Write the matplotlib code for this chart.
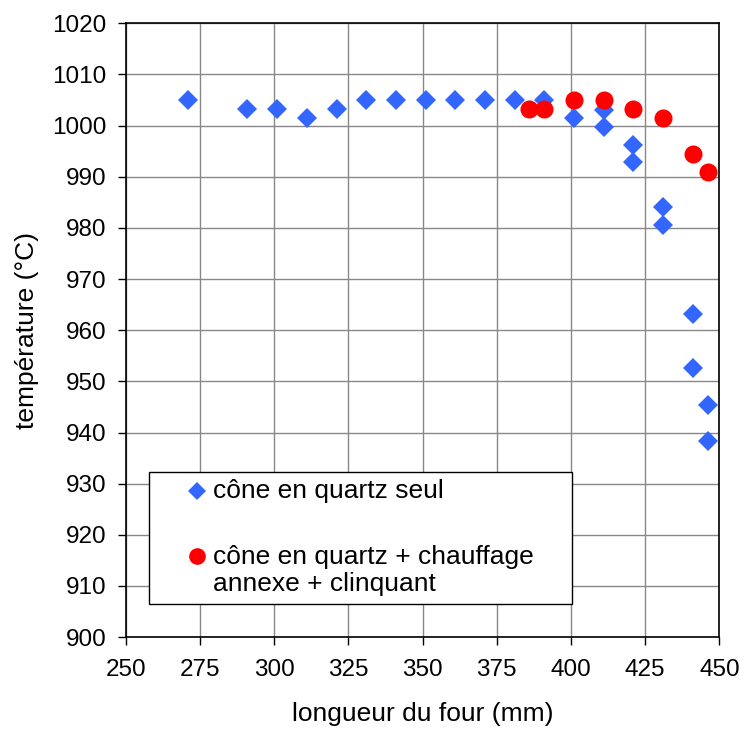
import matplotlib.pyplot as plt
from matplotlib.patches import Rectangle

plt.rcParams["font.family"] = ["Liberation Sans", "DejaVu Sans"]

# cône en quartz seul
x_seul = [271, 291, 301, 311, 321, 331, 341, 351, 361, 371, 381, 391,
          401, 411, 411, 421, 421, 431, 431, 441, 441, 446, 446]
t_seul = [1005, 1003.2, 1003.2, 1001.5, 1003.2, 1005, 1005, 1005, 1005, 1005, 1005, 1005,
          1001.5, 1003, 999.7, 996.2, 992.8, 984, 980.6, 963.1, 952.6, 945.4, 938.4]

# cône en quartz + chauffage annexe + clinquant
x_chauf = [386, 391, 401, 411, 421, 431, 441, 446]
t_chauf = [1003.2, 1003.2, 1005, 1005, 1003.2, 1001.5, 994.5, 991]

label_seul = "cône en quartz seul"
label_chauf = "cône en quartz + chauffage\nannexe + clinquant"

BLUE = "#3366FF"
RED = "#FF0000"

fig = plt.figure(figsize=(7.44, 7.29), dpi=100)
ax = fig.add_axes([0.169, 0.126, 0.798, 0.842])

ax.plot(x_seul, t_seul, linestyle="none", marker="D", markersize=10,
        color=BLUE, markeredgewidth=0, clip_on=False, zorder=3)
ax.plot(x_chauf, t_chauf, linestyle="none", marker="o", markersize=13,
        color=RED, markeredgewidth=0, clip_on=False, zorder=4)

ax.set_xlim(250, 450)
ax.set_ylim(900, 1020)
ax.set_xticks(range(250, 451, 25))
ax.set_yticks(range(900, 1021, 10))
ax.grid(True, color="#888888", linewidth=1.0)
ax.set_axisbelow(True)
for s in ax.spines.values():
    s.set_color("black")
    s.set_linewidth(1.2)
ax.tick_params(direction="out", length=6, width=1, labelsize=17.5)
ax.tick_params(axis="x", pad=10)
ax.tick_params(axis="y", pad=8)

ax.set_xlabel("longueur du four (mm)", fontsize=19, labelpad=15)
ax.set_ylabel("température (°C)", fontsize=19, labelpad=9)

# legend box drawn by hand to match the layout
ax.add_patch(Rectangle((0.040, 0.054), 0.711, 0.215, transform=ax.transAxes,
                       facecolor="white", edgecolor="black", linewidth=1, zorder=5))
ax.plot([0.120], [0.238], transform=ax.transAxes, marker="D", markersize=9,
        color=BLUE, markeredgewidth=0, zorder=6, clip_on=False)
ax.plot([0.120], [0.132], transform=ax.transAxes, marker="o", markersize=12,
        color=RED, markeredgewidth=0, zorder=6, clip_on=False)
ax.text(0.147, 0.238, label_seul, transform=ax.transAxes, fontsize=19,
        va="center", ha="left", zorder=6)
ax.text(0.147, 0.150, label_chauf, transform=ax.transAxes, fontsize=19,
        va="top", ha="left", zorder=6, linespacing=1.17)

fig.savefig("out.png", dpi=100)
